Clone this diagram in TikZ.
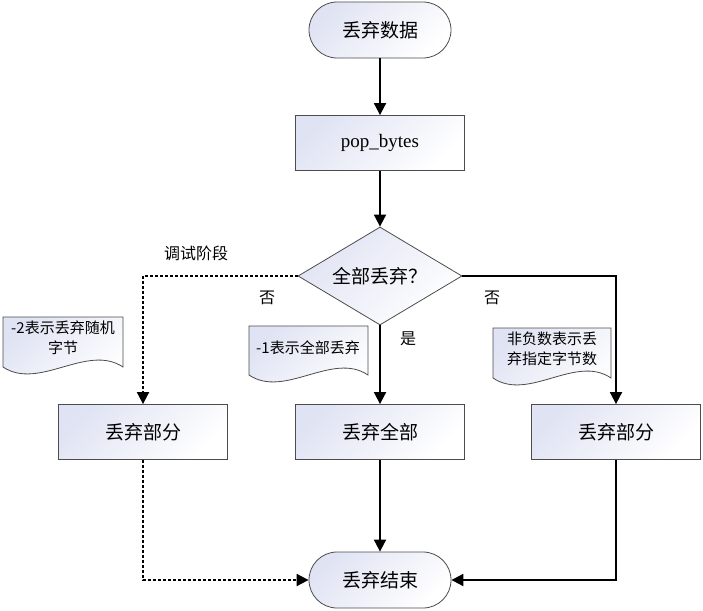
\documentclass[tikz,border=0pt]{standalone}
\usepackage{fontspec}
\setmainfont{Liberation Serif}
\newfontfamily\cjk{Noto Sans CJK SC}
\usetikzlibrary{shapes.geometric,arrows.meta}
\definecolor{boxblue}{RGB}{224,227,243}

\tikzset{
	fillbox/.style={draw=black!70, line width=0.8pt, top color=boxblue, bottom color=white, shading angle=45},
	termbox/.style={fillbox, rectangle, rounded corners=28pt, minimum width=142pt, minimum height=56pt},
	procbox/.style={fillbox, rectangle, minimum width=169pt, minimum height=55pt},
	decbox/.style={fillbox, diamond, aspect=1.67, inner sep=0pt, minimum width=164pt, minimum height=98pt},
	flow/.style={line width=1.8pt, -{Triangle[length=12pt,width=12pt]}},
	debugflow/.style={flow, dash pattern=on 3pt off 2pt},
	lbl/.style={font=\cjk\fontsize{16}{19}\selectfont},
	notetxt/.style={font=\cjk\fontsize{15}{20}\selectfont, align=center, inner sep=0pt}
}

% paper note with wavy bottom: x1, y1, x2, y2
\newcommand\notepaper[4]{%
	\shade[fillbox] (#1,#2) -- (#3,#2) -- (#3,#4)
		.. controls ({#3-0.3*(#3-#1)},{#4-24}) and ({#1+0.3*(#3-#1)},{#4+24}) .. (#1,#4) -- cycle;
}

\begin{document}
\begin{tikzpicture}[x=1pt, y=-1pt, every node/.style={font=\cjk\fontsize{19}{23}\selectfont}]
	\useasboundingbox (0,0) rectangle (703,610);

	% main flow
	\node[termbox] (start) at (380,30) {丢弃数据};
	\node[procbox, font=\fontsize{19}{23}\selectfont] (pop) at (380,143) {pop\_bytes};
	\node[decbox] (ask) at (380,276) {全部丢弃？};
	\node[procbox] (part) at (143,432) {丢弃部分};
	\node[procbox] (all) at (380,432) {丢弃全部};
	\node[procbox] (partb) at (616,432) {丢弃部分};
	\node[termbox] (stop) at (380,580) {丢弃结束};

	\draw[flow] (start) -- (pop);
	\draw[flow] (pop) -- (ask);
	\draw[flow] (ask) -- (all);
	\draw[debugflow] (ask.west) -| (part);
	\draw[flow] (ask.east) -| (partb);
	\draw[flow] (all) -- (stop);
	\draw[debugflow] (part) |- (stop);
	\draw[flow] (partb) |- (stop);

	% branch labels
	\node[lbl] (debug) at (196,253) {调试阶段};
	\node[lbl] (noleft) at (267,298) {否};
	\node[lbl] (yes) at (408,339) {是};
	\node[lbl] (noright) at (492,298) {否};

	% notes
	\notepaper{3}{317}{123}{367}
	\node[notetxt] (noterand) at (63,338) {-2表示丢弃随机\\字节};
	\notepaper{249}{326}{368}{375}
	\node[notetxt] (noteall) at (308,348) {-1表示全部丢弃};
	\notepaper{493}{328}{611}{378}
	\node[notetxt] (notecount) at (552,349) {非负数表示丢\\弃指定字节数};
\end{tikzpicture}
\end{document}
